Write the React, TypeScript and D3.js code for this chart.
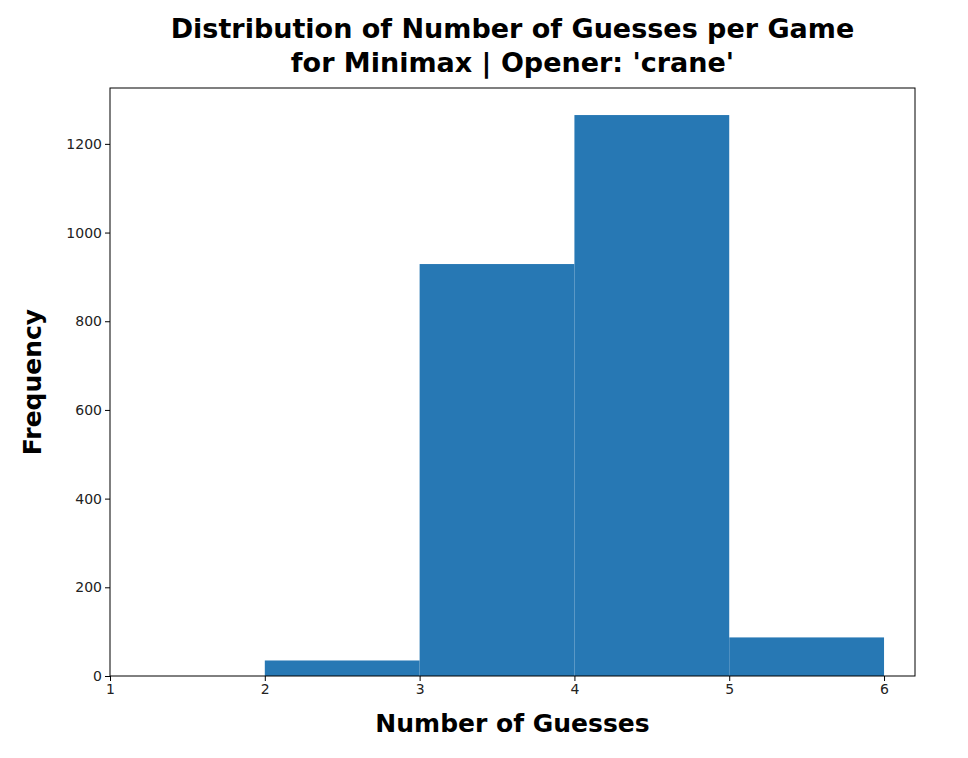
import React, { useEffect, useRef } from 'react';
import * as d3 from 'd3';

const binStarts = [2, 3, 4, 5];
const binEnds = [3, 4, 5, 6];
const counts = [35, 929, 1265, 87];
const xTicks = [1, 2, 3, 4, 5, 6];
const yTicks = [0, 200, 400, 600, 800, 1000, 1200];

const App: React.FC = () => {
  const ref = useRef<SVGSVGElement>(null);

  useEffect(() => {
    if (!ref.current) return;
    const svg = d3.select(ref.current);
    svg.selectAll('*').remove();

    const margin = { top: 88, right: 53, bottom: 82, left: 110 };
    const width = 968 - margin.left - margin.right;
    const height = 758 - margin.top - margin.bottom;

    const x = d3.scaleLinear().domain([1, 6.2]).range([0, width]);
    const y = d3.scaleLinear().domain([0, 1326]).range([height, 0]);

    const g = svg.append('g').attr('transform', `translate(${margin.left},${margin.top})`);

    g.selectAll('rect.bar')
      .data(counts)
      .enter()
      .append('rect')
      .attr('x', (_, i) => x(binStarts[i]))
      .attr('width', (_, i) => x(binEnds[i]) - x(binStarts[i]))
      .attr('y', d => y(d))
      .attr('height', d => height - y(d))
      .attr('fill', '#2778b4');

    g.append('rect')
      .attr('width', width).attr('height', height)
      .attr('fill', 'none').attr('stroke', '#000').attr('stroke-width', 1);

    const xa = g.append('g')
      .attr('transform', `translate(0,${height})`)
      .call(d3.axisBottom(x).tickValues(xTicks).tickFormat(d3.format('d')).tickSize(5));
    const ya = g.append('g')
      .call(d3.axisLeft(y).tickValues(yTicks).tickFormat(d3.format('d')).tickSize(5));
    [xa, ya].forEach(a => {
      a.select('.domain').remove();
      a.selectAll('text').style('font-size', '14px').style('font-family', 'DejaVu Sans').attr('fill', '#222');
    });

    svg.append('text')
      .attr('x', margin.left + width / 2).attr('y', 732)
      .attr('text-anchor', 'middle')
      .style('font-family', 'DejaVu Sans').style('font-weight', 'bold').style('font-size', '25px')
      .text('Number of Guesses');

    svg.append('text')
      .attr('transform', `translate(41,${margin.top + height / 2}) rotate(-90)`)
      .attr('text-anchor', 'middle')
      .style('font-family', 'DejaVu Sans').style('font-weight', 'bold').style('font-size', '25px')
      .text('Frequency');

    const title = ['Distribution of Number of Guesses per Game', "for Minimax | Opener: 'crane'"];
    title.forEach((t, i) => {
      svg.append('text')
        .attr('x', margin.left + width / 2).attr('y', 38 + i * 34)
        .attr('text-anchor', 'middle')
        .style('font-family', 'DejaVu Sans').style('font-weight', 'bold').style('font-size', '27px')
        .text(t);
    });
  }, []);

  return <svg ref={ref} width={968} height={758} style={{ display: 'block', margin: '-8px', background: '#fff' }}></svg>;
};

export default App;
